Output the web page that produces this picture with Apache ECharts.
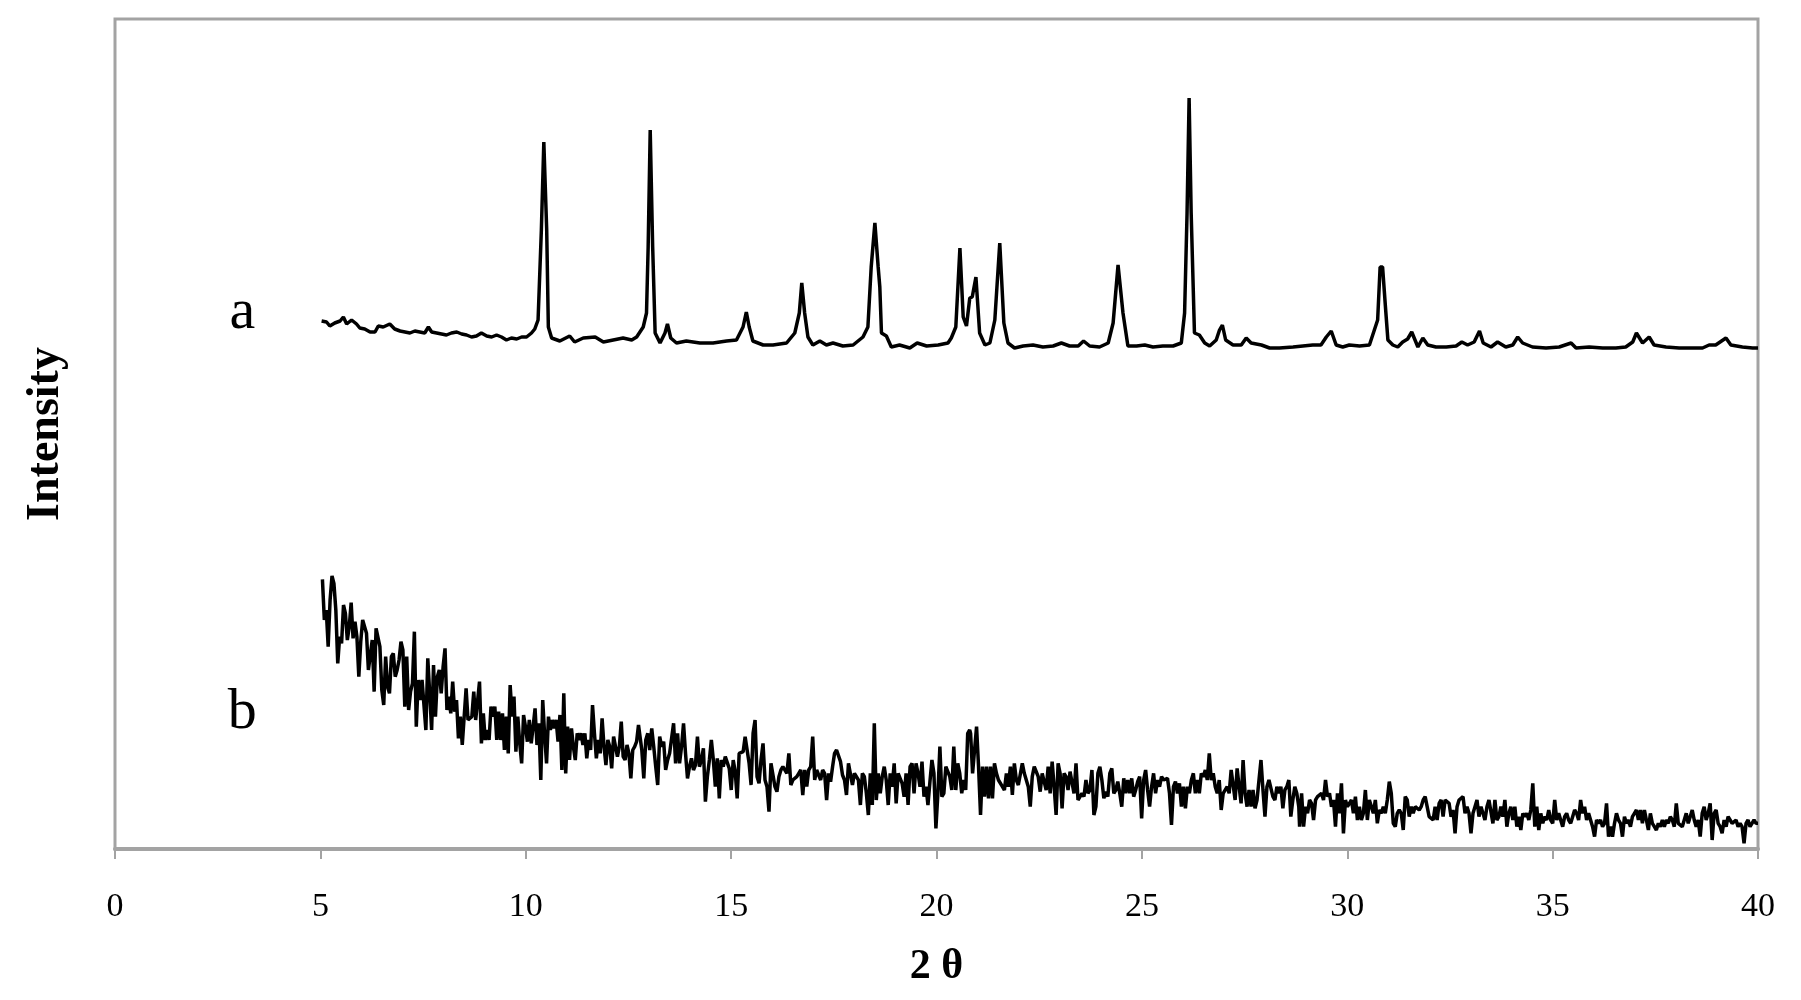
<!DOCTYPE html>
<html>
<head>
<meta charset="utf-8">
<script src="https://cdn.jsdelivr.net/npm/echarts/dist/echarts.min.js"></script>
<style>html,body{margin:0;padding:0;background:#fff}#chart{width:1801px;height:1000px}</style>
</head>
<body>
<div id="chart"></div>
<script>
// x axis (2θ, degrees)
const xMin = 0, xMax = 40, xStep = 5;
// intensity axis (arbitrary units, no tick labels)
const yMin = 0, yMax = 2490;
const seriesLabels = ['a', 'b'];
const labelPos = { a: [3.1, 1608], b: [3.1, 409] };

// Series a: crystalline pattern, [2θ, intensity]
const seriesA = [[5.03,1584],[5.15,1581],[5.23,1569],[5.35,1578],[5.48,1584],[5.56,1596],[5.64,1575],[5.76,1587],[5.88,1575],[5.96,1563],[6.08,1560],[6.21,1551],[6.33,1551],[6.41,1569],[6.53,1566],[6.69,1575],[6.81,1560],[6.94,1554],[7.06,1551],[7.18,1548],[7.30,1554],[7.42,1551],[7.54,1548],[7.63,1566],[7.71,1551],[7.83,1548],[7.95,1545],[8.07,1542],[8.19,1548],[8.32,1551],[8.44,1545],[8.56,1542],[8.68,1536],[8.80,1539],[8.92,1548],[9.05,1539],[9.17,1536],[9.29,1542],[9.41,1536],[9.53,1527],[9.65,1533],[9.78,1530],[9.90,1536],[10.02,1536],[10.14,1548],[10.22,1560],[10.30,1587],[10.38,1857],[10.44,2121],[10.51,1857],[10.55,1566],[10.63,1533],[10.83,1524],[11.07,1539],[11.19,1521],[11.40,1533],[11.69,1536],[11.89,1521],[12.13,1527],[12.37,1533],[12.58,1527],[12.70,1536],[12.86,1566],[12.94,1608],[12.98,1806],[13.03,2157],[13.09,1806],[13.15,1548],[13.27,1518],[13.39,1548],[13.45,1575],[13.53,1533],[13.67,1518],[13.91,1524],[14.24,1518],[14.56,1518],[14.89,1524],[15.13,1527],[15.29,1566],[15.37,1611],[15.44,1566],[15.53,1524],[15.78,1512],[16.02,1512],[16.35,1518],[16.55,1548],[16.66,1608],[16.72,1698],[16.79,1608],[16.87,1536],[16.99,1512],[17.16,1524],[17.32,1512],[17.48,1518],[17.72,1509],[17.97,1512],[18.21,1536],[18.33,1566],[18.41,1746],[18.50,1878],[18.58,1746],[18.62,1686],[18.66,1548],[18.78,1539],[18.90,1506],[19.10,1512],[19.35,1503],[19.53,1518],[19.76,1509],[20.04,1512],[20.28,1518],[20.36,1533],[20.47,1566],[20.57,1803],[20.65,1596],[20.73,1569],[20.81,1653],[20.87,1656],[20.96,1716],[21.05,1548],[21.18,1512],[21.30,1518],[21.42,1587],[21.54,1818],[21.64,1578],[21.74,1518],[21.90,1503],[22.11,1509],[22.35,1512],[22.59,1506],[22.84,1509],[23.04,1518],[23.24,1509],[23.45,1509],[23.58,1524],[23.73,1509],[23.97,1506],[24.18,1518],[24.30,1578],[24.42,1752],[24.54,1608],[24.66,1509],[24.87,1509],[25.07,1512],[25.27,1506],[25.51,1509],[25.76,1509],[25.96,1518],[26.04,1608],[26.10,1908],[26.15,2253],[26.20,1908],[26.28,1548],[26.40,1542],[26.53,1518],[26.65,1509],[26.81,1527],[26.89,1557],[26.96,1572],[27.04,1527],[27.22,1512],[27.42,1512],[27.54,1533],[27.66,1518],[27.91,1512],[28.11,1503],[28.35,1503],[28.68,1506],[28.92,1509],[29.16,1512],[29.36,1512],[29.49,1536],[29.61,1554],[29.73,1512],[29.89,1506],[30.05,1512],[30.30,1509],[30.54,1512],[30.66,1557],[30.74,1587],[30.80,1746],[30.86,1746],[30.93,1626],[30.99,1527],[31.11,1512],[31.23,1506],[31.35,1521],[31.47,1530],[31.57,1551],[31.63,1533],[31.72,1506],[31.84,1533],[31.96,1512],[32.16,1506],[32.41,1506],[32.65,1509],[32.79,1521],[32.93,1512],[33.09,1521],[33.22,1554],[33.31,1518],[33.50,1506],[33.66,1521],[33.86,1506],[34.03,1512],[34.15,1536],[34.27,1518],[34.51,1506],[34.84,1503],[35.16,1506],[35.45,1518],[35.57,1503],[35.89,1506],[36.22,1503],[36.54,1503],[36.78,1506],[36.95,1521],[37.04,1548],[37.19,1518],[37.35,1536],[37.47,1512],[37.76,1506],[38.08,1503],[38.41,1503],[38.65,1503],[38.81,1512],[38.97,1512],[39.22,1533],[39.34,1512],[39.62,1506],[39.87,1503],[40.00,1503]];

// Series b: amorphous pattern, read in four consecutive 2θ windows (evenly sampled inside each window)
const bRange1 = [5.05, 12.745];
const b1 = [809,687,717,607,747,819,797,717,557,637,617,732,707,627,667,739,632,682,637,517,622,687,692,647,537,537,627,472,662,667,607,477,432,577,487,467,577,587,517,537,567,622,597,427,577,417,472,497,652,367,507,447,507,512,357,572,467,357,552,397,517,537,467,547,602,417,457,407,502,412,447,332,397,312,397,482,387,387,397,472,387,387,502,317,407,327,357,327,427,397,427,327,412,327,407,297,397,287,492,397,457,292,397,317,257,402,367,322,387,317,367,422,312,377,207,447,342,257,397,357,387,362,387,322,402,237,467,227,367,267,362,307,267,347,327,347,312,347,272,327,297,432,347,272,327,287,392,307,252,327,307,242,337,307,277,307,382,277,267,312,287,212,297,307,322,372];
const bRange2 = [12.777, 20.808];
const b2 = [367,297,212,327,347,297,362,307,247,192,337,307,322,237,267,287,292,377,257,347,257,307,377,287,212,247,272,237,252,337,247,267,302,142,217,267,327,267,187,272,152,267,247,277,277,242,177,267,232,152,287,287,292,337,297,257,192,347,387,217,197,267,317,207,187,112,257,262,187,172,217,237,247,247,227,287,192,207,207,217,227,237,162,237,187,237,247,337,207,237,237,207,237,227,147,227,202,247,287,297,292,262,222,207,162,257,257,192,227,217,207,132,227,217,167,102,227,132,377,147,227,167,217,247,207,132,227,187,257,137,227,227,197,157,227,132,247,257,167,257,227,187,262,157,187,132,202,267,227,62,167,307,157,167,247,242,217,177,307,177,257,227,167,207,177,347,357];
const bRange3 = [20.83, 28.82];
const b3 = [347,227,227,367,247,102,247,157,247,152,247,152,257,227,207,212,187,177,227,187,247,162,257,207,192,187,257,227,227,187,127,217,247,247,217,172,227,202,177,247,167,262,187,102,257,227,122,227,217,177,232,227,167,257,147,147,167,157,207,167,177,237,102,127,227,247,207,152,172,157,227,242,167,177,202,167,127,212,167,207,167,212,157,177,202,217,92,207,237,177,127,187,227,167,207,187,217,207,207,212,167,72,187,202,167,197,127,187,122,187,167,207,227,167,207,167,227,217,237,207,287,207,227,187,167,207,117,167,172,187,167,237,237,147,242,187,137,267,167,127,177,127,177,122,147,147,267,177,97,187,207,207,157,147,187,167,187,122,177,187,207,97,147,187,167,127];
const bRange4 = [28.84, 40.0];
const b4 = [67,167,67,127,107,147,137,87,147,157,157,167,147,207,157,167,127,147,67,167,107,197,47,147,127,137,147,107,157,87,127,87,107,177,87,147,147,107,147,77,117,107,127,107,147,202,167,77,67,107,117,107,57,157,147,97,127,107,127,127,117,127,147,157,127,97,97,87,127,87,137,147,97,147,147,137,97,117,47,127,147,147,157,107,127,107,47,107,127,147,97,127,107,87,127,147,147,77,147,87,97,127,97,147,67,107,127,87,127,67,97,57,107,97,107,87,117,197,67,127,57,107,77,97,87,117,87,77,147,87,107,107,67,97,107,87,77,97,117,107,87,147,107,127,87,107,87,67,37,87,77,87,67,77,137,37,67,37,77,107,87,77,37,97,77,87,67,97,107,117,87,117,77,117,87,57,107,77,67,57,77,67,87,67,87,77,97,87,67,137,77,77,67,87,107,77,77,117,87,67,87,37,107,127,87,107,137,27,107,117,77,67,47,87,67,97,87,77,77,87,67,77,67,17,77,87,67,77,87,77,77];

function windowPairs(range, vals) {
  const step = (range[1] - range[0]) / (vals.length - 1);
  return vals.map((v, i) => [range[0] + i * step, v]);
}
const seriesB = [].concat(
  windowPairs(bRange1, b1), windowPairs(bRange2, b2),
  windowPairs(bRange3, b3), windowPairs(bRange4, b4));

const gray = '#a3a3a3';
const serif = "'Liberation Serif','Times New Roman',serif";

function labelPoint(name) {
  return {
    symbol: 'circle', symbolSize: 1, silent: true,
    itemStyle: { color: 'rgba(0,0,0,0)' },
    label: { show: true, position: 'inside', formatter: name, fontFamily: serif, fontSize: 58, color: '#000' },
    data: [{ coord: labelPos[name] }]
  };
}

const chart = echarts.init(document.getElementById('chart'), null, { renderer: 'canvas' });
chart.setOption({
  animation: false,
  backgroundColor: '#fff',
  grid: { left: 115, right: 43, top: 19, bottom: 151, show: true, borderColor: gray, borderWidth: 3, backgroundColor: 'transparent' },
  xAxis: {
    type: 'value', min: xMin, max: xMax, interval: xStep,
    name: '2 θ', nameLocation: 'middle', nameGap: 97,
    nameTextStyle: { fontFamily: serif, fontWeight: 'bold', fontSize: 42, color: '#000' },
    axisLine: { show: true, lineStyle: { color: gray, width: 4 } },
    axisTick: { show: true, inside: false, length: 10, lineStyle: { color: gray, width: 2 } },
    axisLabel: { fontFamily: serif, fontSize: 34, color: '#000', margin: 41 },
    splitLine: { show: false }
  },
  yAxis: {
    type: 'value', min: yMin, max: yMax,
    name: 'Intensity', nameLocation: 'middle', nameGap: 46, nameRotate: 90,
    nameTextStyle: { fontFamily: serif, fontWeight: 'bold', fontSize: 46, color: '#000' },
    axisLine: { show: false }, axisTick: { show: false }, axisLabel: { show: false },
    splitLine: { show: false }
  },
  series: [
    { name: seriesLabels[0], type: 'line', data: seriesA, showSymbol: false, symbol: 'none',
      lineStyle: { color: '#000', width: 3.5 }, markPoint: labelPoint('a') },
    { name: seriesLabels[1], type: 'line', data: seriesB, showSymbol: false, symbol: 'none',
      lineStyle: { color: '#000', width: 3.5 }, markPoint: labelPoint('b') }
  ]
});
</script>
</body>
</html>
